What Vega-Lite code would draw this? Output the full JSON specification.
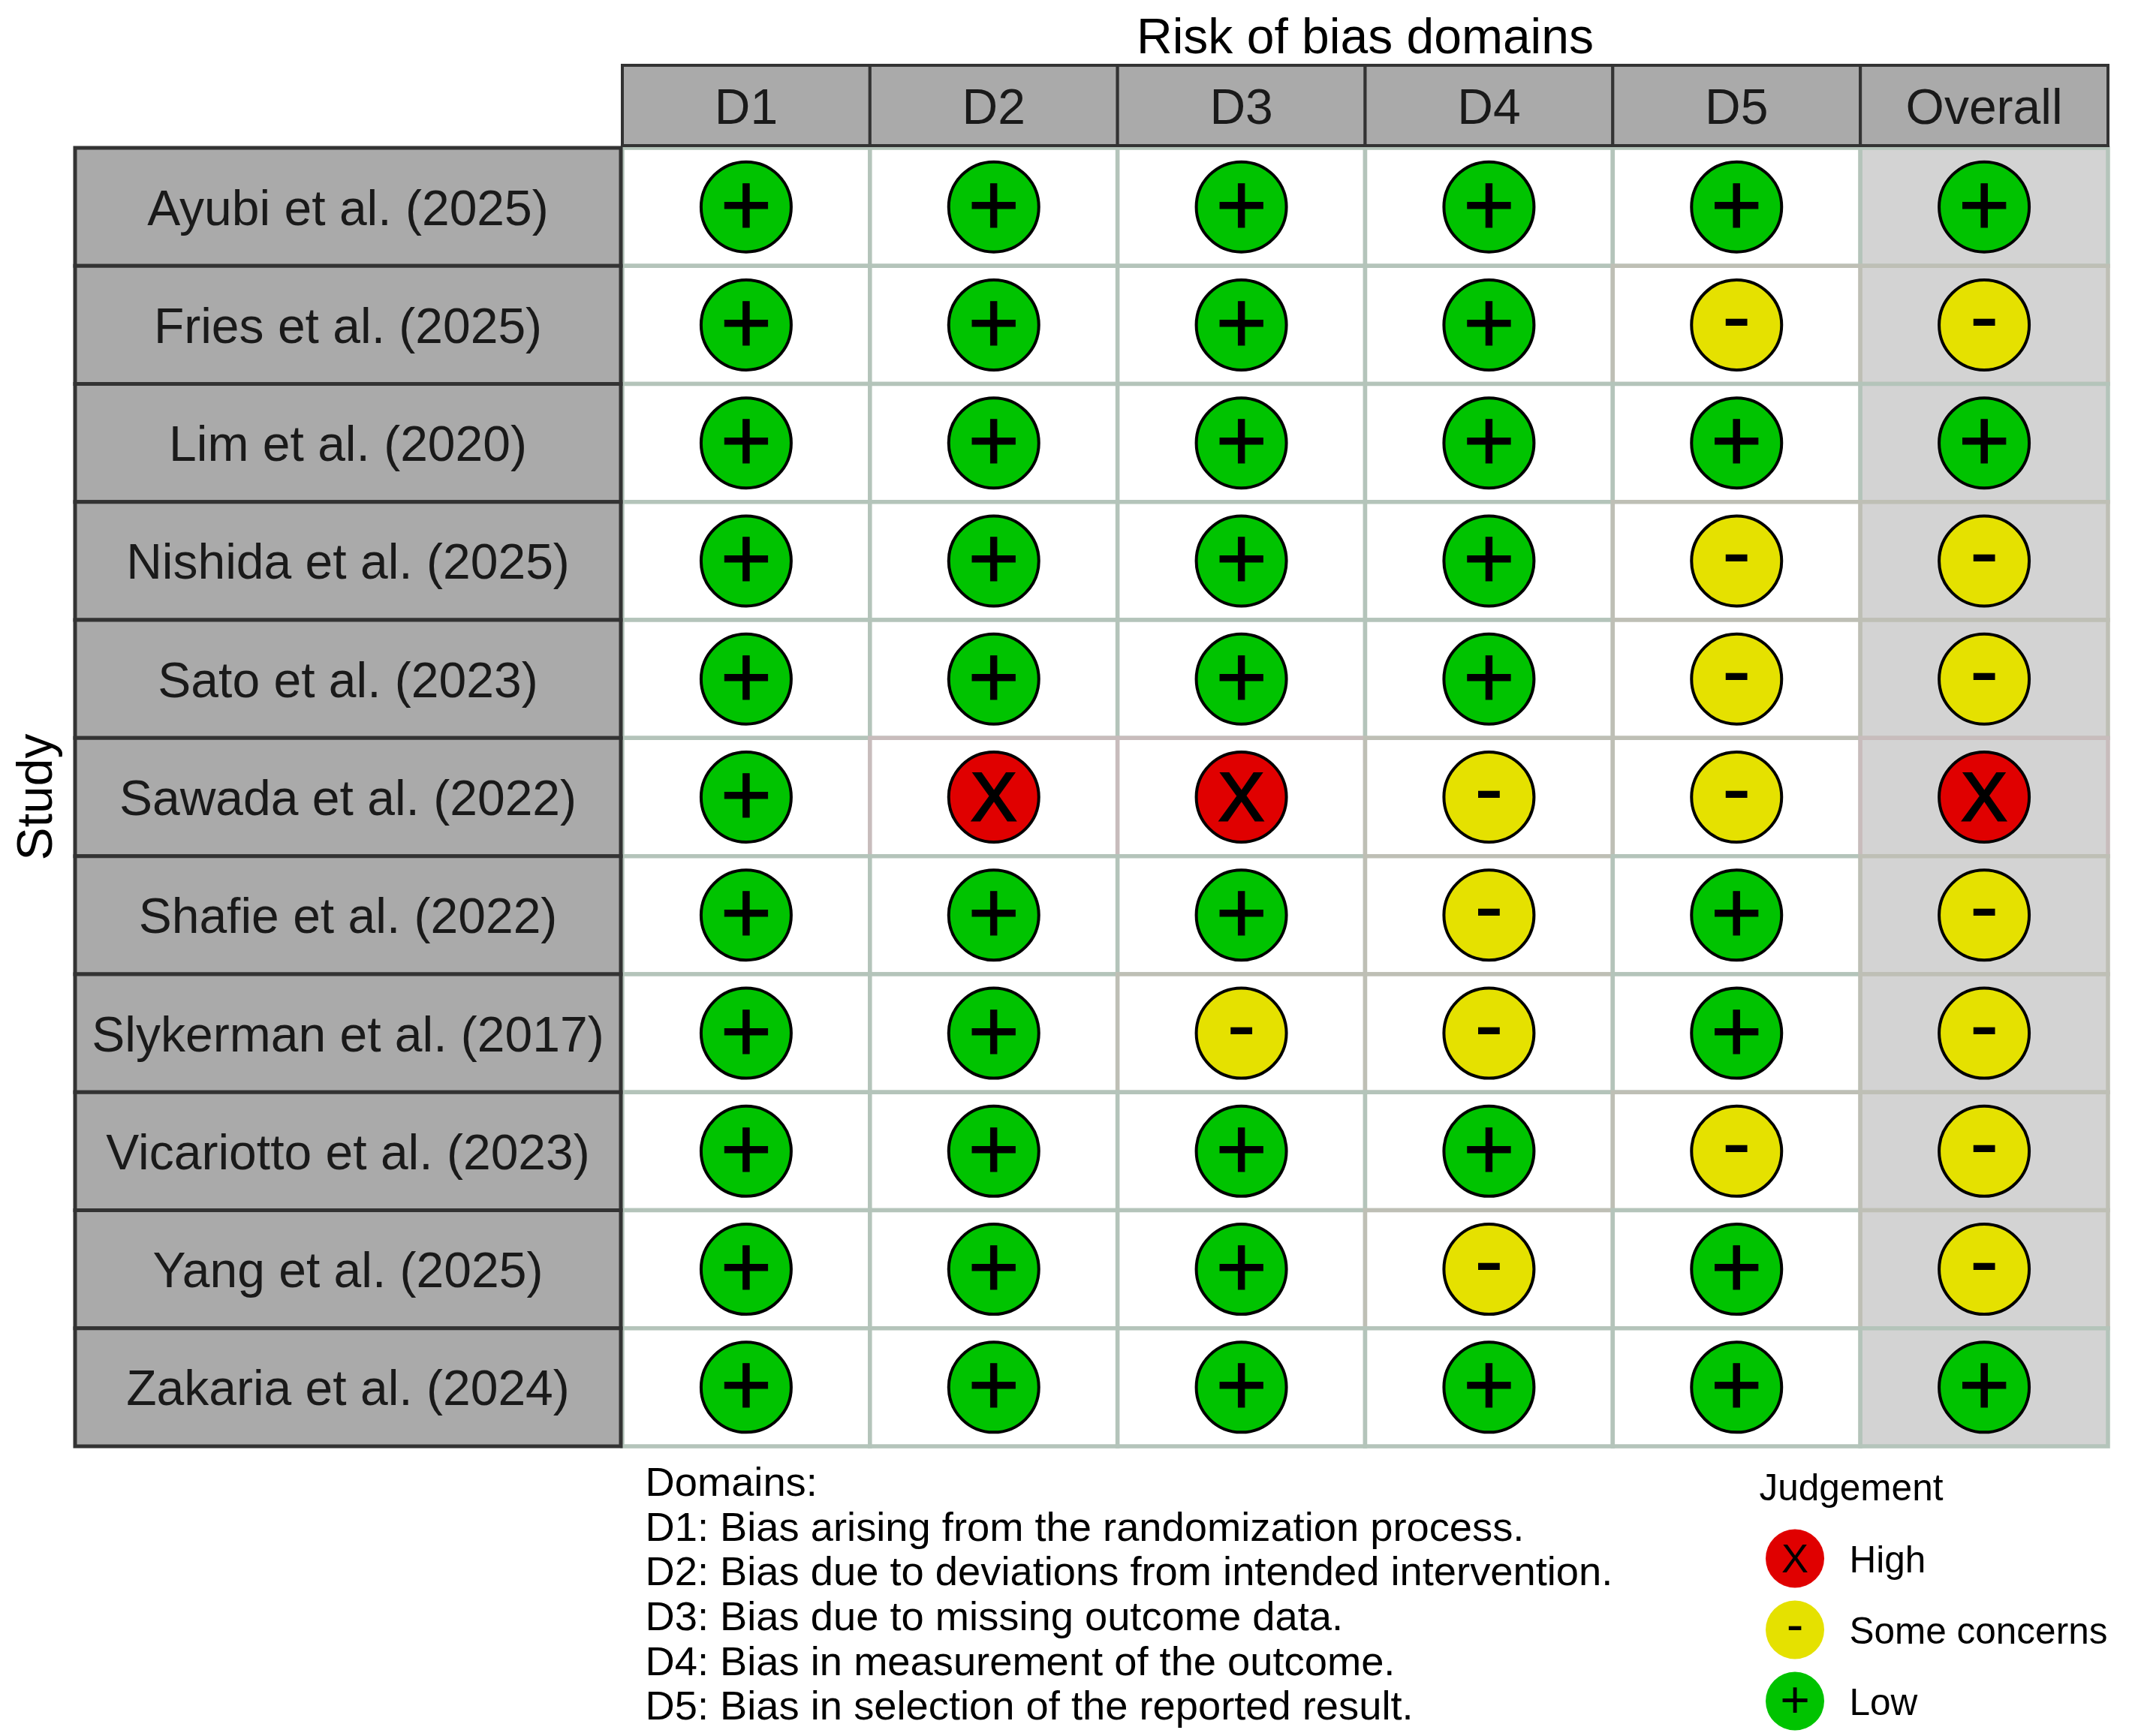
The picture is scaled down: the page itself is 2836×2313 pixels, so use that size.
{
  "$schema": "https://vega.github.io/schema/vega-lite/v6.json",
  "description": "Risk of bias traffic light plot",
  "autosize": {"type": "fit", "contains": "padding"},
  "width": 2836,
  "height": 2313,
  "padding": 0,
  "background": "white",
  "config": {"view": {"stroke": null}, "text": {"font": "Liberation Sans", "color": "#000000"}},
  "datasets": {
    "studies": [
      {"study": "Ayubi et al. (2025)"}, {"study": "Fries et al. (2025)"}, {"study": "Lim et al. (2020)"},
      {"study": "Nishida et al. (2025)"}, {"study": "Sato et al. (2023)"}, {"study": "Sawada et al. (2022)"},
      {"study": "Shafie et al. (2022)"}, {"study": "Slykerman et al. (2017)"}, {"study": "Vicariotto et al. (2023)"},
      {"study": "Yang et al. (2025)"}, {"study": "Zakaria et al. (2024)"}
    ],
    "domains": [
      {"domain": "D1"}, {"domain": "D2"}, {"domain": "D3"}, {"domain": "D4"}, {"domain": "D5"}, {"domain": "Overall"}
    ],
    "cells": [
      {"study": "Ayubi et al. (2025)", "domain": "D1", "judgement": "Low", "symbol": "+"},
      {"study": "Ayubi et al. (2025)", "domain": "D2", "judgement": "Low", "symbol": "+"},
      {"study": "Ayubi et al. (2025)", "domain": "D3", "judgement": "Low", "symbol": "+"},
      {"study": "Ayubi et al. (2025)", "domain": "D4", "judgement": "Low", "symbol": "+"},
      {"study": "Ayubi et al. (2025)", "domain": "D5", "judgement": "Low", "symbol": "+"},
      {"study": "Ayubi et al. (2025)", "domain": "Overall", "judgement": "Low", "symbol": "+"},
      {"study": "Fries et al. (2025)", "domain": "D1", "judgement": "Low", "symbol": "+"},
      {"study": "Fries et al. (2025)", "domain": "D2", "judgement": "Low", "symbol": "+"},
      {"study": "Fries et al. (2025)", "domain": "D3", "judgement": "Low", "symbol": "+"},
      {"study": "Fries et al. (2025)", "domain": "D4", "judgement": "Low", "symbol": "+"},
      {"study": "Fries et al. (2025)", "domain": "D5", "judgement": "Some concerns", "symbol": "-"},
      {"study": "Fries et al. (2025)", "domain": "Overall", "judgement": "Some concerns", "symbol": "-"},
      {"study": "Lim et al. (2020)", "domain": "D1", "judgement": "Low", "symbol": "+"},
      {"study": "Lim et al. (2020)", "domain": "D2", "judgement": "Low", "symbol": "+"},
      {"study": "Lim et al. (2020)", "domain": "D3", "judgement": "Low", "symbol": "+"},
      {"study": "Lim et al. (2020)", "domain": "D4", "judgement": "Low", "symbol": "+"},
      {"study": "Lim et al. (2020)", "domain": "D5", "judgement": "Low", "symbol": "+"},
      {"study": "Lim et al. (2020)", "domain": "Overall", "judgement": "Low", "symbol": "+"},
      {"study": "Nishida et al. (2025)", "domain": "D1", "judgement": "Low", "symbol": "+"},
      {"study": "Nishida et al. (2025)", "domain": "D2", "judgement": "Low", "symbol": "+"},
      {"study": "Nishida et al. (2025)", "domain": "D3", "judgement": "Low", "symbol": "+"},
      {"study": "Nishida et al. (2025)", "domain": "D4", "judgement": "Low", "symbol": "+"},
      {"study": "Nishida et al. (2025)", "domain": "D5", "judgement": "Some concerns", "symbol": "-"},
      {"study": "Nishida et al. (2025)", "domain": "Overall", "judgement": "Some concerns", "symbol": "-"},
      {"study": "Sato et al. (2023)", "domain": "D1", "judgement": "Low", "symbol": "+"},
      {"study": "Sato et al. (2023)", "domain": "D2", "judgement": "Low", "symbol": "+"},
      {"study": "Sato et al. (2023)", "domain": "D3", "judgement": "Low", "symbol": "+"},
      {"study": "Sato et al. (2023)", "domain": "D4", "judgement": "Low", "symbol": "+"},
      {"study": "Sato et al. (2023)", "domain": "D5", "judgement": "Some concerns", "symbol": "-"},
      {"study": "Sato et al. (2023)", "domain": "Overall", "judgement": "Some concerns", "symbol": "-"},
      {"study": "Sawada et al. (2022)", "domain": "D1", "judgement": "Low", "symbol": "+"},
      {"study": "Sawada et al. (2022)", "domain": "D2", "judgement": "High", "symbol": "X"},
      {"study": "Sawada et al. (2022)", "domain": "D3", "judgement": "High", "symbol": "X"},
      {"study": "Sawada et al. (2022)", "domain": "D4", "judgement": "Some concerns", "symbol": "-"},
      {"study": "Sawada et al. (2022)", "domain": "D5", "judgement": "Some concerns", "symbol": "-"},
      {"study": "Sawada et al. (2022)", "domain": "Overall", "judgement": "High", "symbol": "X"},
      {"study": "Shafie et al. (2022)", "domain": "D1", "judgement": "Low", "symbol": "+"},
      {"study": "Shafie et al. (2022)", "domain": "D2", "judgement": "Low", "symbol": "+"},
      {"study": "Shafie et al. (2022)", "domain": "D3", "judgement": "Low", "symbol": "+"},
      {"study": "Shafie et al. (2022)", "domain": "D4", "judgement": "Some concerns", "symbol": "-"},
      {"study": "Shafie et al. (2022)", "domain": "D5", "judgement": "Low", "symbol": "+"},
      {"study": "Shafie et al. (2022)", "domain": "Overall", "judgement": "Some concerns", "symbol": "-"},
      {"study": "Slykerman et al. (2017)", "domain": "D1", "judgement": "Low", "symbol": "+"},
      {"study": "Slykerman et al. (2017)", "domain": "D2", "judgement": "Low", "symbol": "+"},
      {"study": "Slykerman et al. (2017)", "domain": "D3", "judgement": "Some concerns", "symbol": "-"},
      {"study": "Slykerman et al. (2017)", "domain": "D4", "judgement": "Some concerns", "symbol": "-"},
      {"study": "Slykerman et al. (2017)", "domain": "D5", "judgement": "Low", "symbol": "+"},
      {"study": "Slykerman et al. (2017)", "domain": "Overall", "judgement": "Some concerns", "symbol": "-"},
      {"study": "Vicariotto et al. (2023)", "domain": "D1", "judgement": "Low", "symbol": "+"},
      {"study": "Vicariotto et al. (2023)", "domain": "D2", "judgement": "Low", "symbol": "+"},
      {"study": "Vicariotto et al. (2023)", "domain": "D3", "judgement": "Low", "symbol": "+"},
      {"study": "Vicariotto et al. (2023)", "domain": "D4", "judgement": "Low", "symbol": "+"},
      {"study": "Vicariotto et al. (2023)", "domain": "D5", "judgement": "Some concerns", "symbol": "-"},
      {"study": "Vicariotto et al. (2023)", "domain": "Overall", "judgement": "Some concerns", "symbol": "-"},
      {"study": "Yang et al. (2025)", "domain": "D1", "judgement": "Low", "symbol": "+"},
      {"study": "Yang et al. (2025)", "domain": "D2", "judgement": "Low", "symbol": "+"},
      {"study": "Yang et al. (2025)", "domain": "D3", "judgement": "Low", "symbol": "+"},
      {"study": "Yang et al. (2025)", "domain": "D4", "judgement": "Some concerns", "symbol": "-"},
      {"study": "Yang et al. (2025)", "domain": "D5", "judgement": "Low", "symbol": "+"},
      {"study": "Yang et al. (2025)", "domain": "Overall", "judgement": "Some concerns", "symbol": "-"},
      {"study": "Zakaria et al. (2024)", "domain": "D1", "judgement": "Low", "symbol": "+"},
      {"study": "Zakaria et al. (2024)", "domain": "D2", "judgement": "Low", "symbol": "+"},
      {"study": "Zakaria et al. (2024)", "domain": "D3", "judgement": "Low", "symbol": "+"},
      {"study": "Zakaria et al. (2024)", "domain": "D4", "judgement": "Low", "symbol": "+"},
      {"study": "Zakaria et al. (2024)", "domain": "D5", "judgement": "Low", "symbol": "+"},
      {"study": "Zakaria et al. (2024)", "domain": "Overall", "judgement": "Low", "symbol": "+"}
    ],
    "notes": [
      {"note": "Domains:"},
      {"note": "D1: Bias arising from the randomization process."},
      {"note": "D2: Bias due to deviations from intended intervention."},
      {"note": "D3: Bias due to missing outcome data."},
      {"note": "D4: Bias in measurement of the outcome."},
      {"note": "D5: Bias in selection of the reported result."}
    ],
    "key": [
      {"judgement": "High", "symbol": "X"},
      {"judgement": "Some concerns", "symbol": "-"},
      {"judgement": "Low", "symbol": "+"}
    ]
  },
  "resolve": {"scale": {"x": "independent", "y": "independent"}},
  "layer": [
    {
      "data": {"name": "cells"},
      "mark": {"type": "rect", "strokeWidth": 5.5},
      "encoding": {
        "x": {"field": "domain", "type": "nominal", "axis": null, "scale": {"domain": ["D1", "D2", "D3", "D4", "D5", "Overall"], "range": [829, 2808]}},
        "y": {"field": "study", "type": "nominal", "axis": null, "sort": null, "scale": {"range": [197, 1927]}},
        "fill": {"condition": {"test": "datum.domain === 'Overall'", "value": "#D3D3D3"}, "value": "#FFFFFF"},
        "stroke": {"field": "judgement", "type": "nominal", "legend": null, "scale": {"domain": ["High", "Some concerns", "Low"], "range": ["#C8BCBC", "#BEBFB5", "#B4C4BA"]}}
      }
    },
    {
      "data": {"name": "cells"},
      "mark": {"type": "point", "shape": "circle", "filled": true, "size": 14400, "stroke": "#000000", "strokeWidth": 4, "opacity": 1},
      "encoding": {
        "x": {"field": "domain", "type": "nominal", "axis": null, "scale": {"domain": ["D1", "D2", "D3", "D4", "D5", "Overall"], "range": [829, 2808]}},
        "y": {"field": "study", "type": "nominal", "axis": null, "sort": null, "scale": {"range": [197, 1927]}},
        "fill": {"field": "judgement", "type": "nominal", "legend": null, "scale": {"domain": ["High", "Some concerns", "Low"], "range": ["#E00000", "#E5E100", "#00C300"]}}
      }
    },
    {
      "data": {"name": "cells"},
      "transform": [{"filter": "datum.symbol === '+'"}],
      "mark": {"type": "text", "fontSize": 118, "baseline": "middle", "align": "center", "dy": 2, "stroke": "#000000", "strokeWidth": 1},
      "encoding": {
        "x": {"field": "domain", "type": "nominal", "axis": null, "scale": {"domain": ["D1", "D2", "D3", "D4", "D5", "Overall"], "range": [829, 2808]}},
        "y": {"field": "study", "type": "nominal", "axis": null, "sort": null, "scale": {"domain": ["Ayubi et al. (2025)", "Fries et al. (2025)", "Lim et al. (2020)", "Nishida et al. (2025)", "Sato et al. (2023)", "Sawada et al. (2022)", "Shafie et al. (2022)", "Slykerman et al. (2017)", "Vicariotto et al. (2023)", "Yang et al. (2025)", "Zakaria et al. (2024)"], "range": [197, 1927]}},
        "text": {"field": "symbol"}
      }
    },
    {
      "data": {"name": "cells"},
      "transform": [{"filter": "datum.symbol === '-'"}],
      "mark": {"type": "text", "fontSize": 118, "baseline": "middle", "align": "center", "dy": -7},
      "encoding": {
        "x": {"field": "domain", "type": "nominal", "axis": null, "scale": {"domain": ["D1", "D2", "D3", "D4", "D5", "Overall"], "range": [829, 2808]}},
        "y": {"field": "study", "type": "nominal", "axis": null, "sort": null, "scale": {"domain": ["Ayubi et al. (2025)", "Fries et al. (2025)", "Lim et al. (2020)", "Nishida et al. (2025)", "Sato et al. (2023)", "Sawada et al. (2022)", "Shafie et al. (2022)", "Slykerman et al. (2017)", "Vicariotto et al. (2023)", "Yang et al. (2025)", "Zakaria et al. (2024)"], "range": [197, 1927]}},
        "text": {"field": "symbol"}
      }
    },
    {
      "data": {"name": "cells"},
      "transform": [{"filter": "datum.symbol === 'X'"}],
      "mark": {"type": "text", "fontSize": 90, "baseline": "middle", "align": "center", "dy": 4, "stroke": "#000000", "strokeWidth": 3},
      "encoding": {
        "x": {"field": "domain", "type": "nominal", "axis": null, "scale": {"domain": ["D1", "D2", "D3", "D4", "D5", "Overall"], "range": [829, 2808]}},
        "y": {"field": "study", "type": "nominal", "axis": null, "sort": null, "scale": {"domain": ["Ayubi et al. (2025)", "Fries et al. (2025)", "Lim et al. (2020)", "Nishida et al. (2025)", "Sato et al. (2023)", "Sawada et al. (2022)", "Shafie et al. (2022)", "Slykerman et al. (2017)", "Vicariotto et al. (2023)", "Yang et al. (2025)", "Zakaria et al. (2024)"], "range": [197, 1927]}},
        "text": {"field": "symbol"}
      }
    },
    {
      "data": {"name": "domains"},
      "mark": {"type": "rect", "fill": "#AAAAAA", "stroke": "#333333", "strokeWidth": 4},
      "encoding": {
        "x": {"field": "domain", "type": "nominal", "axis": null, "sort": null, "scale": {"range": [829, 2808]}},
        "y": {"datum": "Header", "type": "nominal", "axis": null, "scale": {"domain": ["Header"], "range": [87, 194]}}
      }
    },
    {
      "data": {"name": "domains"},
      "mark": {"type": "text", "fontSize": 66, "baseline": "middle", "align": "center", "color": "#1A1A1A", "dy": 4},
      "encoding": {
        "x": {"field": "domain", "type": "nominal", "axis": null, "sort": null, "scale": {"range": [829, 2808]}},
        "y": {"datum": "Header", "type": "nominal", "axis": null, "scale": {"domain": ["Header"], "range": [87, 194]}},
        "text": {"field": "domain"}
      }
    },
    {
      "data": {"name": "studies"},
      "mark": {"type": "rect", "fill": "#AAAAAA", "stroke": "#333333", "strokeWidth": 5},
      "encoding": {
        "x": {"datum": "Study", "type": "nominal", "axis": null, "scale": {"domain": ["Study"], "range": [100, 827]}},
        "y": {"field": "study", "type": "nominal", "axis": null, "sort": null, "scale": {"range": [197, 1927]}}
      }
    },
    {
      "data": {"name": "studies"},
      "mark": {"type": "text", "fontSize": 66, "baseline": "middle", "align": "center", "color": "#1A1A1A", "dy": 4},
      "encoding": {
        "x": {"datum": "Study", "type": "nominal", "axis": null, "scale": {"domain": ["Study"], "range": [100, 827]}},
        "y": {"field": "study", "type": "nominal", "axis": null, "sort": null, "scale": {"range": [197, 1927]}},
        "text": {"field": "study"}
      }
    },
    {
      "data": {"values": [{"label": "Risk of bias domains"}]},
      "mark": {"type": "text", "fontSize": 66, "baseline": "middle", "align": "center", "dy": 2},
      "encoding": {
        "x": {"datum": "Top", "type": "nominal", "axis": null, "scale": {"domain": ["Top"], "range": [829, 2808]}},
        "y": {"datum": "Top", "type": "nominal", "axis": null, "scale": {"domain": ["Top"], "range": [16, 82]}},
        "text": {"field": "label"}
      }
    },
    {
      "data": {"values": [{"label": "Study"}]},
      "mark": {"type": "text", "fontSize": 66, "baseline": "middle", "align": "center", "angle": 270},
      "encoding": {
        "x": {"datum": "Side", "type": "nominal", "axis": null, "scale": {"domain": ["Side"], "range": [16, 82]}},
        "y": {"datum": "Side", "type": "nominal", "axis": null, "scale": {"domain": ["Side"], "range": [197, 1927]}},
        "text": {"field": "label"}
      }
    },
    {
      "data": {"name": "notes"},
      "mark": {"type": "text", "fontSize": 54.3, "baseline": "middle", "align": "left"},
      "encoding": {
        "x": {"datum": "Notes", "type": "nominal", "axis": null, "scale": {"domain": ["Notes"], "range": [859, 860]}},
        "y": {"field": "note", "type": "nominal", "axis": null, "sort": null, "scale": {"range": [1947, 2305]}},
        "text": {"field": "note"}
      }
    },
    {
      "data": {"values": [{"label": "Judgement"}]},
      "mark": {"type": "text", "fontSize": 49.5, "baseline": "middle", "align": "left"},
      "encoding": {
        "x": {"datum": "Legend", "type": "nominal", "axis": null, "scale": {"domain": ["Legend"], "range": [2343, 2344]}},
        "y": {"datum": "Legend", "type": "nominal", "axis": null, "scale": {"domain": ["Legend"], "range": [1952, 2016]}},
        "text": {"field": "label"}
      }
    },
    {
      "data": {"name": "key"},
      "mark": {"type": "point", "shape": "circle", "filled": true, "size": 6084, "opacity": 1},
      "encoding": {
        "x": {"datum": "Swatch", "type": "nominal", "axis": null, "scale": {"domain": ["Swatch"], "range": [2351, 2431]}},
        "y": {"field": "judgement", "type": "nominal", "axis": null, "sort": null, "scale": {"range": [2029, 2314]}},
        "fill": {"field": "judgement", "type": "nominal", "legend": null, "scale": {"domain": ["High", "Some concerns", "Low"], "range": ["#E00000", "#E5E100", "#00C300"]}}
      }
    },
    {
      "data": {"name": "key"},
      "transform": [{"filter": "datum.symbol === '+'"}],
      "mark": {"type": "text", "fontSize": 68, "baseline": "middle", "align": "center", "dy": 1},
      "encoding": {
        "x": {"datum": "Swatch", "type": "nominal", "axis": null, "scale": {"domain": ["Swatch"], "range": [2351, 2431]}},
        "y": {"field": "judgement", "type": "nominal", "axis": null, "sort": null, "scale": {"domain": ["High", "Some concerns", "Low"], "range": [2029, 2314]}},
        "text": {"field": "symbol"}
      }
    },
    {
      "data": {"name": "key"},
      "transform": [{"filter": "datum.symbol === '-'"}],
      "mark": {"type": "text", "fontSize": 68, "baseline": "middle", "align": "center", "dy": -4},
      "encoding": {
        "x": {"datum": "Swatch", "type": "nominal", "axis": null, "scale": {"domain": ["Swatch"], "range": [2351, 2431]}},
        "y": {"field": "judgement", "type": "nominal", "axis": null, "sort": null, "scale": {"domain": ["High", "Some concerns", "Low"], "range": [2029, 2314]}},
        "text": {"field": "symbol"}
      }
    },
    {
      "data": {"name": "key"},
      "transform": [{"filter": "datum.symbol === 'X'"}],
      "mark": {"type": "text", "fontSize": 54, "baseline": "middle", "align": "center", "dy": 2},
      "encoding": {
        "x": {"datum": "Swatch", "type": "nominal", "axis": null, "scale": {"domain": ["Swatch"], "range": [2351, 2431]}},
        "y": {"field": "judgement", "type": "nominal", "axis": null, "sort": null, "scale": {"domain": ["High", "Some concerns", "Low"], "range": [2029, 2314]}},
        "text": {"field": "symbol"}
      }
    },
    {
      "data": {"name": "key"},
      "mark": {"type": "text", "fontSize": 49.5, "baseline": "middle", "align": "left", "dy": 3},
      "encoding": {
        "x": {"datum": "Name", "type": "nominal", "axis": null, "scale": {"domain": ["Name"], "range": [2463, 2464]}},
        "y": {"field": "judgement", "type": "nominal", "axis": null, "sort": null, "scale": {"range": [2029, 2314]}},
        "text": {"field": "judgement"}
      }
    }
  ]
}
